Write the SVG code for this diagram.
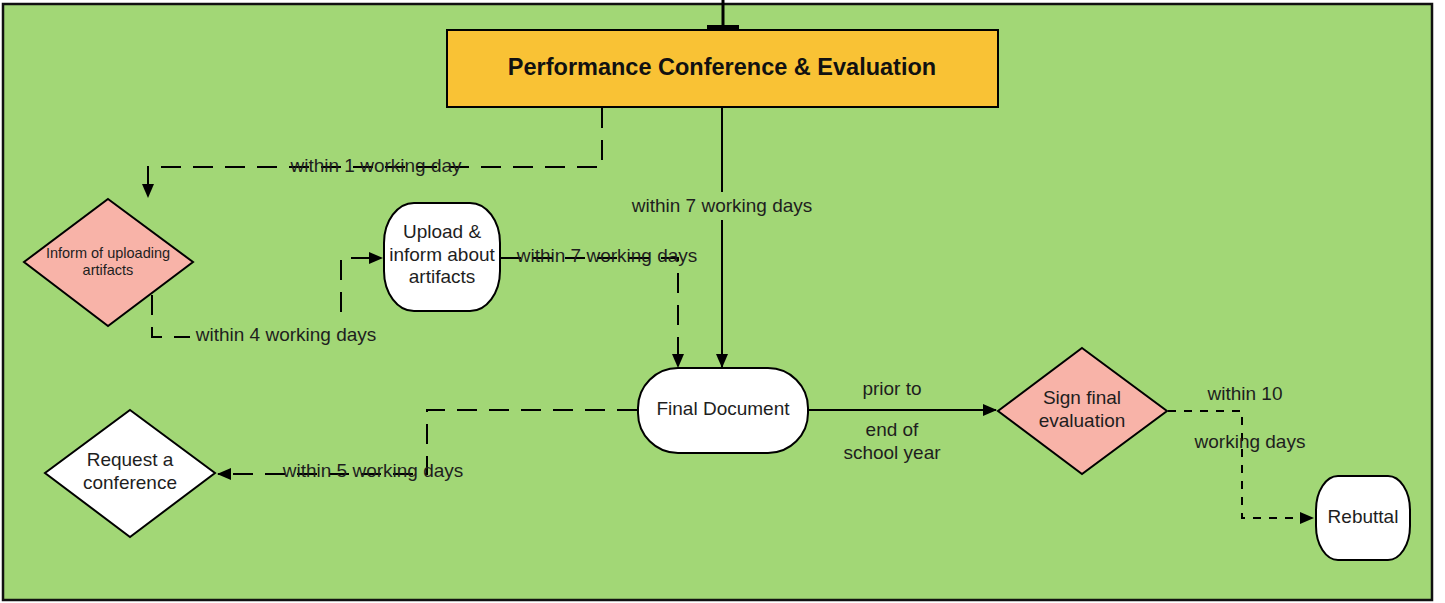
<svg xmlns="http://www.w3.org/2000/svg" width="1445" height="603" viewBox="0 0 1445 603">
<style>
text{font-family:"Liberation Sans",Arial,sans-serif;fill:#1e1e1e;text-anchor:middle}
.lbl{font-size:19px}
.node{stroke:#000;stroke-width:2}
.c{fill:none;stroke:#000;stroke-width:2}
.d{stroke-dasharray:20 12}
.s{stroke-dasharray:8 8}
</style>
<defs>
<marker id="ah" markerWidth="14" markerHeight="12" refX="13" refY="6" orient="auto" markerUnits="userSpaceOnUse">
<path d="M0,0 L14,6 L0,12 Z" fill="#000"/>
</marker>
</defs>
<rect x="0" y="0" width="1445" height="603" fill="#fff"/>
<rect x="3" y="4" width="1429" height="596" fill="#a2d776" stroke="#111" stroke-width="2.5"/>
<g id="top-bar">
<line x1="723" y1="0" x2="723" y2="27" stroke="#000" stroke-width="3"/>
<line x1="707" y1="27.5" x2="739" y2="27.5" stroke="#000" stroke-width="5"/>
</g>
<g id="connectors">
<path class="c d" d="M602,108 V167 H148 V197" marker-end="url(#ah)"/>
<path class="c d" d="M152,295 V337 H341 V258 H382" marker-end="url(#ah)"/>
<path class="c d" d="M501,258 H678 V367" marker-end="url(#ah)"/>
<path class="c" d="M722,108 V367" marker-end="url(#ah)"/>
<path class="c" d="M809,410 H996" marker-end="url(#ah)"/>
<path class="c s" d="M1168,411 H1242 V518 H1313" marker-end="url(#ah)"/>
<path class="c d" d="M637,410 H427 V474 H218" marker-end="url(#ah)"/>
<rect x="190" y="322" width="192" height="26" fill="#a2d776"/>
<rect x="628" y="192" width="190" height="28" fill="#a2d776"/>
<text class="lbl" x="376" y="172">within 1 working day</text>
<text class="lbl" x="286" y="341">within 4 working days</text>
<text class="lbl" x="607" y="262">within 7 working days</text>
<text class="lbl" x="722" y="212">within 7 working days</text>
<text class="lbl" x="373" y="477">within 5 working days</text>
<text class="lbl" x="892" y="395">prior to</text>
<text class="lbl" x="892" y="436">end of</text>
<text class="lbl" x="892" y="459">school year</text>
<text class="lbl" x="1245" y="400">within 10</text>
<text class="lbl" x="1250" y="448">working days</text>
</g>
<g id="performance">
<rect class="node" x="447" y="30" width="551" height="77" fill="#f9c235"/>
<text x="722" y="75" style="font-size:23.5px;font-weight:bold;fill:#111">Performance Conference &amp; Evaluation</text>
</g>
<g id="inform">
<polygon class="node" points="108,199 193,262 108,326 24,262" fill="#f8b3a8"/>
<text x="108" y="258" style="font-size:14.5px">Inform of uploading</text>
<text x="108" y="275" style="font-size:14.5px">artifacts</text>
</g>
<g id="upload">
<rect class="node" x="384" y="203" width="116" height="108" rx="30" ry="40" fill="#fff"/>
<text class="lbl" x="442" y="238">Upload &amp;</text>
<text class="lbl" x="442" y="261">inform about</text>
<text class="lbl" x="442" y="283">artifacts</text>
</g>
<g id="final">
<rect class="node" x="638" y="368" width="170" height="85" rx="40" ry="40" fill="#fff"/>
<text class="lbl" x="723" y="415">Final Document</text>
</g>
<g id="sign">
<polygon class="node" points="1082,348 1167,411 1082,474 998,411" fill="#f8b3a8"/>
<text class="lbl" x="1082" y="404">Sign final</text>
<text class="lbl" x="1082" y="427">evaluation</text>
</g>
<g id="request">
<polygon class="node" points="130,410 215,473 130,537 45,473" fill="#fff"/>
<text class="lbl" x="130" y="466">Request a</text>
<text class="lbl" x="130" y="489">conference</text>
</g>
<g id="rebuttal">
<rect class="node" x="1316" y="476" width="94" height="84" rx="22" ry="34" fill="#fff"/>
<text class="lbl" x="1363" y="523">Rebuttal</text>
</g>
</svg>
